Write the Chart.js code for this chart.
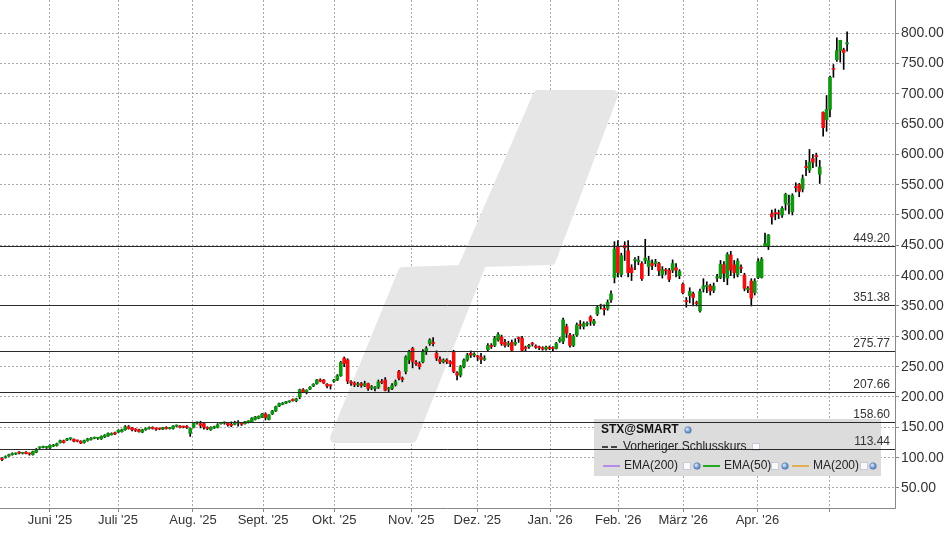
<!DOCTYPE html>
<html>
<head>
<meta charset="utf-8">
<script src="https://cdn.jsdelivr.net/npm/chart.js@4"></script>
<style>
  html, body { margin: 0; padding: 0; background: #fff; }
  #wrap { width: 948px; height: 534px; }
</style>
</head>
<body>
<div id="wrap"><canvas id="stxChart" width="948" height="534"></canvas></div>
<script>
// daily candles, STX@SMART
const opens = [
  98,100,103,105,106,108,107,109,107,105, 109,116,117,117,116,119,120,125,128,129,
  131,130,128,127,125,128,130,132,132,131, 134,136,138,141,142,143,146,151,149,147,
  146,142,146,148,150,148,148,147,150,148, 148,152,152,151,151,140,150,157,156,156,
  150,146,149,150,156,157,157,155,155,157, 157,156,159,159,163,165,167,172,163,172,
  177,185,188,190,192,196,194,200,212,208, 213,218,222,228,228,221,219,226,228,235,
  264,261,225,223,220,222,219,222,215,214, 216,225,228,213,214,220,242,231,242,261,
  280,256,255,258,276,288,290,272,262,258, 261,258,275,240,236,250,261,272,269,268,
  266,262,278,285,285,294,299,290,286,290, 287,298,297,282,283,288,284,282,281,279,
  282,281,280,292,292,316,302,285,302,319, 316,320,332,321,337,350,
  346,346,360,397,448,402,450,441,413,425, 423,420,425,415,420,420,420,402,409,409,
  409,413,400,386,359,367,370,355,342,378, 382,383,376,396,397,418,396,434,418,402,
  413,401,377,391,372,397,397,449,449,502, 504,503,500,519,517,505,546,550,543,580,
  574,593,598,567,669,657,674,741,756,771, 772,782
];
const closes = [
  97,101,105,106,106.5,107.5,108,107,106,110, 114,117,117.5,117.5,120,120,123,128,125,131,
  131.5,127,127.5,124,128,131,132,132.5,132.5,135, 137,140,140,139,145,146,151,148,146,145,
  143,146,148,150,148,147,147,149,148,148.5, 152,152.5,150,150.5,150,148,157,157.5,153,150,
  148,150,151,154,157,157.5,154,153,158,157.5, 155,159,159.5,165,167,168,172,166,170,177,
  184,189,190,192,192.5,194,197,212,208,211, 216,221,228,226,223,218,218.5,228,235,257,
  255,226,223,220,221,219,222,214,217,215, 225,224,211,214,219,225,231,229,266,275,
  258,255,250,275,280,294,288,264,258,261, 258,255,242,236,250,261,269,269,270,266,
  262,264,285,283,297,303,288,285,288,277, 290,296,277,280,285,287,282,281,279,282,
  280,280,288,295,327,305,285,300,319,318, 321,321,325,325,348,350.5,
  344,356,370,444,405,433,446,405,405,427, 425,395,429,425,417,423,408,410,408,394,
  420,409,407,372,357,374,364,354,374,383, 384,375,383,398,419,404,435,409,405,424,
  412,379,379,363,391,423,427,453,467,497, 502,502,511,534,518,532,545,539,560,578,
  587,587,596,579,644,674,727,740,771,788, 768,784
];
const highs = [
  100,103,106,108,108,110,109,110,108,111, 115,118,119,118,121,122,124,129,129,132,
  133,131,129,128,129,132,133,134,133,136, 138,141,141,142,146,147,153,153,150,148,
  147,147,149,151,151,149,149,150,151,150, 153,154,153,152,153,149,158,159,160,157,
  151,151,152,156,158,159,158,159,160,161, 158,160,161,166,168,169,173,174,171,178,
  185,190,191,193,194,197,198,213,214,212, 217,222,229,230,229,222,220,229,237,259,
  266,263,227,225,224,224,226,223,219,217, 228,229,232,216,222,228,244,233,268,277,
  282,260,258,278,283,296,298,276,266,263, 263,260,277,242,252,263,272,276,273,269,
  272,268,288,288,300,306,302,295,292,294, 296,299,300,284,287,290,286,284,283,284,
  284,283,290,298,330,320,305,303,322,326, 324,324,334,328,350,353,
  352,360,375,456,458,437,456,458,418,430, 432,423,460,432,426,427,422,415,412,412,
  426,420,410,388,364,380,373,358,378,395, 390,386,388,402,425,423,438,440,425,428,
  418,404,382,395,395,428,430,470,468,508, 510,508,514,536,533,535,553,552,566,590,
  608,600,602,590,670,697,729,748,792,788, 775,802
];
const lows = [
  95,99,102,104,105,106,106,106,104,104, 108,115,116,115,115,118,119,124,124,128,
  129,126,126,123,124,127,129,131,130,130, 133,135,137,138,141,142,145,147,144,143,
  142,141,145,147,147,145,146,146,147,147, 147,151,149,149,148,135,149,155,149,147,
  146,145,148,149,155,155,152,151,154,152, 153,155,157,158,162,164,166,162,162,171,
  176,184,187,189,191,193,192,197,207,205, 212,217,221,225,222,215,213,224,227,234,
  250,222,219,217,217,216,217,211,212,210, 214,222,210,208,212,218,228,225,238,255,
  248,252,246,256,270,285,284,260,255,256, 255,250,240,228,233,248,259,265,266,260,
  255,260,275,280,283,292,285,282,283,276, 285,290,275,276,280,284,280,278,277,277,
  278,276,279,290,288,298,282,283,300,312, 312,317,318,318,334,345,
  335,343,356,388,398,398,425,398,392,410, 418,392,420,400,410,415,400,396,402,390,
  405,398,395,370,348,355,350,350,340,373, 372,368,372,390,395,390,385,400,396,398,
  405,375,372,350,368,395,396,448,443,485, 492,494,496,508,502,500,538,530,538,565,
  570,578,580,552,630,638,662,727,753,752, 740,770
];

// month grid lines (position in trading-day index) and their labels
const monthPos = [14, 33.9, 55.8, 76.3, 97.1, 119.6, 138.9, 160.2, 180.1, 199.1, 220.8, 241.8];
const monthLabels = ["Juni '25", "Juli '25", "Aug. '25", "Sept. '25", "Okt. '25", "Nov. '25",
  "Dez. '25", "Jan. '26", "Feb. '26", "März '26", "Apr. '26", ""];
const yTicks = [50, 100, 150, 200, 250, 300, 350, 400, 450, 500, 550, 600, 650, 700, 750, 800];

// horizontal support / resistance levels
const levels = [449.20, 351.38, 275.77, 207.66, 158.60, 113.44];

const FONT = '"Liberation Sans", Arial, sans-serif';
const GREEN = '#129612';
const RED = '#ee1111';

const bodies = opens.map((o, i) => ({ x: i, y: [o, closes[i]] }));
const wicks = opens.map((o, i) => ({ x: i, y: [lows[i], highs[i]] }));
const bodyColors = opens.map((o, i) => closes[i] >= o ? GREEN : RED);

// grey logo behind the candles
const watermark = {
  id: 'watermark',
  beforeDatasetsDraw(chart) {
    const c = chart.ctx;
    c.save();
    c.fillStyle = '#e6e6e6';
    c.strokeStyle = '#e6e6e6';
    c.lineWidth = 10;
    c.lineJoin = 'round';
    c.beginPath();
    c.moveTo(335, 438);
    c.lineTo(403, 272);
    c.lineTo(462, 270);
    c.lineTo(538, 95);
    c.lineTo(613, 95);
    c.lineTo(551, 260);
    c.lineTo(482, 262);
    c.lineTo(412, 438);
    c.closePath();
    c.fill();
    c.stroke();
    // legend box
    c.fillStyle = '#dcdcdc';
    c.fillRect(594, 419, 287, 57);
    c.restore();
  }
};

function globe(c, x, y) {
  const g = c.createRadialGradient(x - 1, y - 1, 0.5, x, y, 4);
  g.addColorStop(0, '#cfe3ff');
  g.addColorStop(1, '#2f5f9f');
  c.fillStyle = g;
  c.beginPath();
  c.arc(x, y, 3.5, 0, Math.PI * 2);
  c.fill();
}
function checkbox(c, x, y) {
  c.fillStyle = '#fafafa';
  c.fillRect(x, y, 8, 8);
  c.strokeStyle = '#c8c8d8';
  c.lineWidth = 1;
  c.strokeRect(x + 0.5, y + 0.5, 7, 7);
}

const overlay = {
  id: 'overlay',
  afterDatasetsDraw(chart) {
    const c = chart.ctx;
    const a = chart.chartArea;
    const xs = chart.scales.x;
    const ys = chart.scales.y;
    c.save();
    // legend contents
    c.fillStyle = '#111';
    c.font = 'bold 12px ' + FONT;
    c.textBaseline = 'middle';
    c.fillText('STX@SMART', 601, 430);
    globe(c, 688, 430);
    c.strokeStyle = '#444';
    c.lineWidth = 2;
    c.setLineDash([6, 3]);
    c.beginPath(); c.moveTo(602, 447); c.lineTo(619, 447); c.stroke();
    c.setLineDash([]);
    c.font = '12px ' + FONT;
    c.fillStyle = '#222';
    c.fillText('Vorheriger Schlusskurs', 623, 447);
    checkbox(c, 752, 443);
    const items = [
      ['#b48be6', 'EMA(200)', 603, 683, 697],
      ['#22aa22', 'EMA(50)', 703, 771, 785],
      ['#e0b050', 'MA(200)', 792, 860, 873]
    ];
    items.forEach(([col, txt, x, cb, gl]) => {
      c.strokeStyle = col;
      c.lineWidth = 2;
      c.beginPath(); c.moveTo(x, 466); c.lineTo(x + 17, 466); c.stroke();
      c.fillStyle = '#222';
      c.fillText(txt, x + 21, 466);
      checkbox(c, cb, 462);
      globe(c, gl, 466);
    });
    // levels
    c.font = '12px ' + FONT;
    c.textAlign = 'right';
    c.textBaseline = 'bottom';
    levels.forEach(v => {
      const y = Math.round(ys.getPixelForValue(v)) + 0.5;
      c.strokeStyle = '#2a2a2a';
      c.lineWidth = 1;
      c.beginPath(); c.moveTo(a.left, y); c.lineTo(a.right, y); c.stroke();
      c.fillStyle = '#333';
      c.fillText(v.toFixed(2), a.right - 5, y - 2);
    });
    // plot frame
    c.strokeStyle = '#888';
    c.beginPath();
    c.moveTo(a.right + 0.5, a.top); c.lineTo(a.right + 0.5, a.bottom + 0.5); c.lineTo(a.left, a.bottom + 0.5);
    c.stroke();
    // axis labels
    c.fillStyle = '#333';
    c.font = '13px ' + FONT;
    c.textAlign = 'center';
    c.textBaseline = 'middle';
    monthPos.forEach((v, i) => c.fillText(monthLabels[i], xs.getPixelForValue(v), 520));
    c.font = '14px ' + FONT;
    c.textAlign = 'left';
    yTicks.forEach(v => c.fillText(v.toFixed(2), a.right + 6, ys.getPixelForValue(v)));
    c.restore();
  }
};

new Chart(document.getElementById('stxChart'), {
  type: 'bar',
  data: {
    datasets: [
      { data: bodies, backgroundColor: bodyColors, barThickness: 3, minBarLength: 1, order: 0, grouped: false },
      { data: wicks, backgroundColor: '#000', barThickness: 1, order: 1, grouped: false }
    ]
  },
  options: {
    responsive: false,
    animation: false,
    layout: { padding: 0 },
    plugins: { legend: { display: false }, tooltip: { enabled: false } },
    scales: {
      x: {
        type: 'linear',
        offset: false,
        min: -0.6,
        max: 261,
        afterBuildTicks: s => { s.ticks = monthPos.map(v => ({ value: v })); },
        afterFit: s => { s.height = 26; },
        ticks: { display: false },
        grid: { offset: false, color: '#a8a8a8', tickLength: 4, tickColor: '#888' },
        border: { display: false, dash: [2, 2] }
      },
      y: {
        position: 'right',
        min: 17,
        max: 854.4,
        afterBuildTicks: s => { s.ticks = yTicks.map(v => ({ value: v })); },
        afterFit: s => { s.width = 53; },
        ticks: { display: false },
        grid: { offset: false, color: '#a8a8a8', tickLength: 4, tickColor: '#888' },
        border: { display: false, dash: [2, 2] }
      }
    }
  },
  plugins: [watermark, overlay]
});
</script>
</body>
</html>
